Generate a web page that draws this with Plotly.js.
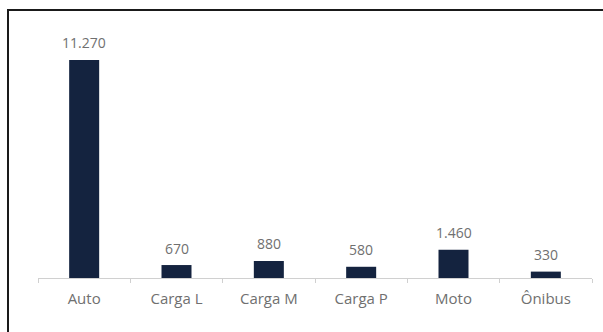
<!DOCTYPE html>
<html>
<head>
<meta charset="utf-8">
<script src="https://cdn.plot.ly/plotly-3.0.1.min.js"></script>
<style>
  html, body { margin: 0; padding: 0; background: #fff; overflow: hidden; }
  #chart { position: absolute; left: 0; top: 0; }
</style>
</head>
<body>
<div id="chart"></div>
<script>
// Vehicle counts by type
const categories = ["Auto", "Carga L", "Carga M", "Carga P", "Moto", "Ônibus"];
const counts = [11270, 670, 880, 580, 1460, 330];

const FONT = "Open Sans, Noto Sans, sans-serif";
const W = 603, H = 332;
const M = { l: 38, r: 11, t: 40, b: 54 };

// Thousands separator in pt-BR style (dot)
const fmt = v => String(v).replace(/\B(?=(\d{3})+(?!\d))/g, ".");

// Convert a pixel position of the page into paper coordinates
const pw = W - M.l - M.r, ph = H - M.t - M.b;
const px = x => (x - M.l) / pw;
const py = y => (H - M.b - y) / ph;

const trace = {
  type: "bar",
  x: categories,
  y: counts,
  marker: { color: "#14233f" },
  hoverinfo: "skip"
};

// Value labels placed above each bar
const labels = categories.map((c, i) => ({
  x: c,
  y: counts[i],
  xref: "x",
  yref: "y",
  text: fmt(counts[i]),
  showarrow: false,
  yanchor: "middle",
  yshift: 17,
  font: { family: FONT, size: 14, color: "#707070" }
}));

// Card outline (left and top edges)
const frame = [
  { type: "line", xref: "paper", yref: "paper", x0: px(8), x1: px(8), y0: py(H + 5), y1: py(10),
    line: { color: "#1a1a1a", width: 2 } },
  { type: "line", xref: "paper", yref: "paper", x0: px(7), x1: px(W + 5), y0: py(10), y1: py(10),
    line: { color: "#1a1a1a", width: 2 } }
];

const layout = {
  width: W,
  height: H,
  margin: M,
  bargap: 0.675,
  paper_bgcolor: "#fff",
  plot_bgcolor: "#fff",
  showlegend: false,
  font: { family: FONT, color: "#707070" },
  annotations: labels,
  shapes: frame,
  xaxis: {
    type: "category",
    showline: true,
    linecolor: "#d0d0d0",
    linewidth: 1,
    ticks: "outside",
    tickson: "boundaries",
    ticklen: 4,
    tickcolor: "#d0d0d0",
    ticklabelstandoff: 7,
    tickfont: { size: 15, color: "#707070" },
    showgrid: false,
    zeroline: false
  },
  yaxis: {
    range: [0, 12300],
    visible: false,
    showgrid: false,
    zeroline: false
  }
};

Plotly.newPlot("chart", [trace], layout, { displayModeBar: false, staticPlot: true });
</script>
</body>
</html>
